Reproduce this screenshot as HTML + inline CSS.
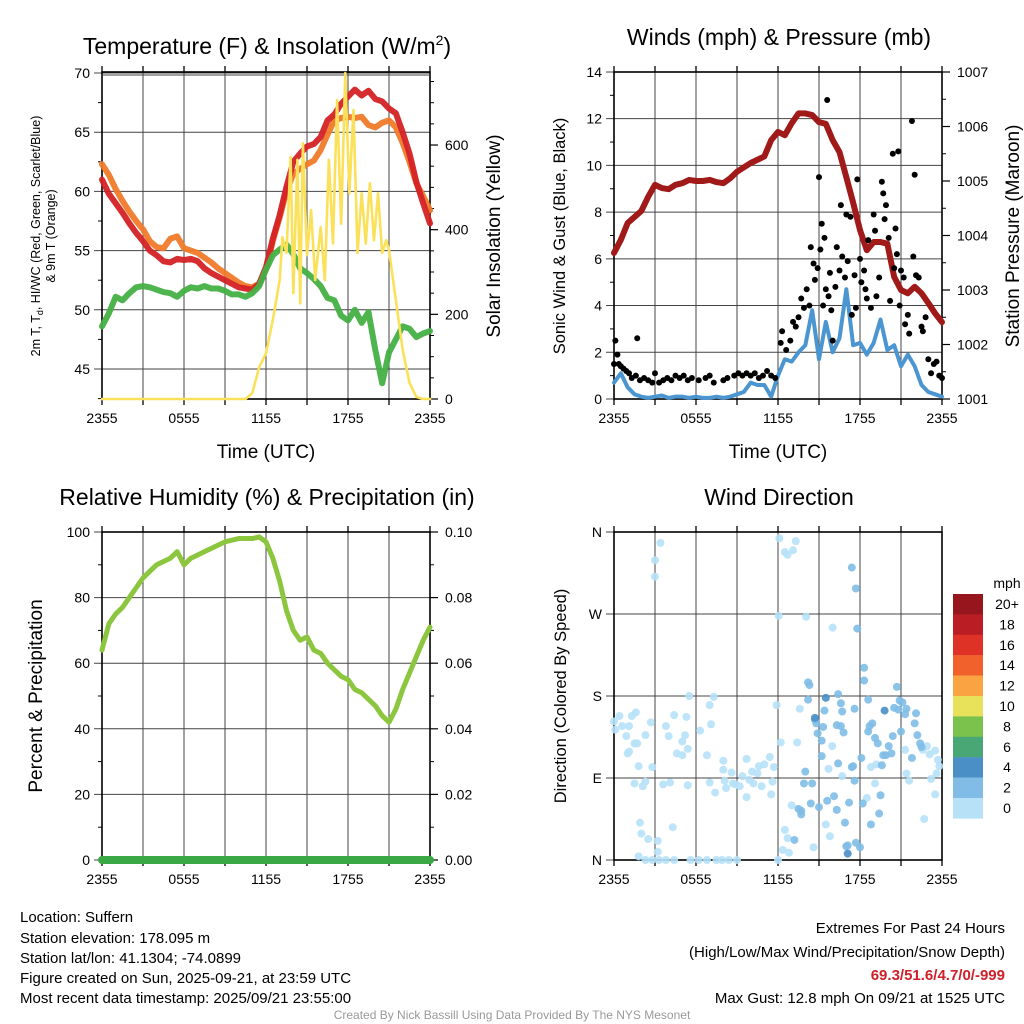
<!DOCTYPE html>
<html><head><meta charset="utf-8"><style>
body{margin:0;background:#fff}
svg{display:block;font-family:"Liberation Sans",sans-serif}
</style></head><body>
<svg id="s" width="1024" height="1024" viewBox="0 0 1024 1024">
<rect width="1024" height="1024" fill="#fff"/>
<text x="267" y="54" font-size="23" text-anchor="middle">Temperature (F) &amp; Insolation (W/m<tspan font-size="14" dy="-9">2</tspan><tspan dy="9">)</tspan></text>
<text x="779" y="45" font-size="23" text-anchor="middle">Winds (mph) &amp; Pressure (mb)</text>
<text x="267" y="505" font-size="23" text-anchor="middle">Relative Humidity (%) &amp; Precipitation (in)</text>
<text x="779" y="505" font-size="23" text-anchor="middle">Wind Direction</text>
<text transform="translate(40,236) rotate(-90)" font-size="12.5" text-anchor="middle">2m T, T<tspan font-size="9" dy="3">d</tspan><tspan dy="-3">, HI/WC (Red, Green, Scarlet/Blue)</tspan></text>
<text transform="translate(55,236) rotate(-90)" font-size="12.5" text-anchor="middle">&amp; 9m T (Orange)</text>
<text transform="translate(500,236) rotate(-90)" font-size="19" text-anchor="middle">Solar Insolation (Yellow)</text>
<text transform="translate(565,236) rotate(-90)" font-size="16.5" text-anchor="middle">Sonic Wind &amp; Gust (Blue, Black)</text>
<text transform="translate(1019,236) rotate(-90)" font-size="19" text-anchor="middle">Station Pressure (Maroon)</text>
<text transform="translate(42,696) rotate(-90)" font-size="19" text-anchor="middle">Percent &amp; Precipitation</text>
<text transform="translate(566,696) rotate(-90)" font-size="16.5" text-anchor="middle">Direction (Colored By Speed)</text>
<text x="266" y="458" font-size="19" text-anchor="middle">Time (UTC)</text>
<text x="778" y="458" font-size="19" text-anchor="middle">Time (UTC)</text>
<g font-size="15">
<text x="20" y="922">Location: Suffern</text>
<text x="20" y="943">Station elevation: 178.095 m</text>
<text x="20" y="963">Station lat/lon: 41.1304; -74.0899</text>
<text x="20" y="983">Figure created on Sun, 2025-09-21, at 23:59 UTC</text>
<text x="20" y="1003">Most recent data timestamp: 2025/09/21 23:55:00</text>
</g>
<g font-size="15" text-anchor="end">
<text x="1005" y="933">Extremes For Past 24 Hours</text>
<text x="1005" y="957">(High/Low/Max Wind/Precipitation/Snow Depth)</text>
<text x="1005" y="980" fill="#d0202a" font-weight="bold">69.3/51.6/4.7/0/-999</text>
<text x="1005" y="1003">Max Gust: 12.8 mph On 09/21 at 1525 UTC</text>
</g>
<text x="512" y="1019" font-size="12" fill="#999" text-anchor="middle">Created By Nick Bassill Using Data Provided By The NYS Mesonet</text>
</svg>
<script>
const timeTicks=[0,6,12,18,24];
const timeLabels=['2355','0555','1155','1755','2355'];
const halfHours=[];for(let i=0;i<=48;i++)halfHours.push(i/2);
const tempRed=[61.0,59.8,59.0,58.2,57.3,56.5,55.8,55.0,54.6,54.1,54.0,54.3,54.2,54.3,54.1,53.5,53.1,52.8,52.5,52.2,51.9,51.8,51.7,52.2,53.6,56.0,58.0,60.4,62.5,63.2,63.8,64.0,64.6,66.0,66.5,67.4,68.0,68.6,68.1,68.5,67.8,67.6,67.0,66.6,65.0,63.2,60.8,59.0,57.3];
const tempOrange=[62.3,61.4,60.2,59.2,58.3,57.5,56.8,55.8,55.3,55.2,56.0,56.2,55.2,55.0,54.8,54.4,54.0,53.5,53.1,52.7,52.3,52.0,51.9,52.2,53.4,55.8,57.8,60.0,61.5,61.9,62.3,62.6,63.5,64.8,66.0,66.2,66.3,66.2,66.3,65.6,65.4,65.8,66.0,65.4,64.1,62.5,60.7,59.6,58.4];
const dewGreen=[48.6,49.7,51.1,50.8,51.4,51.9,52.0,51.9,51.7,51.5,51.4,51.1,51.6,51.9,51.8,52.0,51.8,51.8,51.6,51.3,51.3,51.1,51.4,52.0,53.4,54.6,55.1,55.5,54.7,53.5,53.1,52.6,52.0,51.0,50.8,49.5,49.1,50.0,48.9,49.8,46.6,43.8,46.4,47.5,48.6,48.4,47.7,48.0,48.2];
const solarHours=[0,10.5,11,11.5,12,12.5,13,13.2,13.5,13.8,14,14.3,14.5,14.7,15,15.3,15.6,16,16.3,16.6,16.9,17.2,17.5,17.8,18.1,18.4,18.7,19,19.3,19.6,19.9,20.2,20.5,20.8,21,21.5,22,22.5,23,23.5,24];
const solarValues=[0,0,14,75,108,187,281,382,345,572,250,565,226,604,340,446,281,406,281,565,367,706,414,770,486,683,345,486,367,510,375,486,345,375,351,234,116,38,5,0,0];
const pressure=[1003.68,1003.92,1004.23,1004.34,1004.45,1004.71,1004.93,1004.87,1004.85,1004.93,1004.96,1005.02,1005.0,1005.0,1005.02,1004.98,1004.96,1005.05,1005.17,1005.25,1005.33,1005.39,1005.45,1005.75,1005.9,1005.84,1006.06,1006.24,1006.24,1006.21,1006.08,1006.05,1005.75,1005.53,1005.07,1004.6,1004.1,1003.73,1003.88,1003.88,1003.85,1003.24,1003.0,1002.94,1003.06,1002.94,1002.76,1002.57,1002.41];
const windSpeed=[0.7,1.1,0.5,0.2,0.1,0.05,0.1,0.15,0.05,0.1,0.1,0.05,0.1,0.05,0.05,0.1,0.05,0.1,0.2,0.3,0.7,0.6,0.6,0.1,1.0,1.7,1.6,2.0,2.3,3.8,1.7,3.3,2.0,2.6,4.7,2.3,2.4,1.9,2.4,3.4,2.1,2.3,1.4,1.9,1.4,0.6,0.3,0.2,0.1];
const gustHours=[0,0.1,0.25,0.35,0.5,0.7,0.9,1.1,1.3,1.7,1.6,1.9,2.2,2.5,2.8,3.0,3.3,3.6,3.9,4.2,4.5,4.8,5.1,5.4,5.7,6.2,6.7,7.0,7.3,8.0,8.3,8.8,9.1,9.4,9.7,10.0,10.3,10.6,10.9,11.2,11.5,11.8,12.2,12.3,12.6,12.9,13.1,13.3,13.5,13.7,13.9,14.1,14.3,14.4,14.6,14.7,14.9,15.0,15.1,15.2,15.3,15.4,15.5,15.6,15.7,15.8,15.9,16.0,16.2,16.3,16.5,16.6,16.7,16.9,17.0,17.1,17.3,17.4,17.6,17.7,17.8,18.0,18.1,18.3,18.4,18.5,18.6,18.8,19.0,19.1,19.2,19.4,19.6,19.7,19.8,19.9,20.1,20.2,20.4,20.5,20.6,20.7,20.8,20.9,21.0,21.2,21.3,21.5,21.6,21.8,21.9,22.0,22.1,22.3,22.5,22.6,22.8,23.0,23.2,23.4,23.6,23.8,24.0];
const gustSpeed=[1.5,2.5,1.9,1.5,1.4,1.3,1.2,1.1,0.9,2.6,1.0,0.8,0.9,0.8,0.7,1.1,0.7,0.8,0.9,0.8,1.0,0.9,1.0,0.8,0.9,0.8,0.9,1.0,0.7,0.8,0.9,1.0,1.1,1.0,1.1,1.0,1.1,0.9,1.0,1.2,1.0,0.9,2.4,2.9,2.1,2.5,3.3,3.1,3.5,4.3,3.9,4.7,4.0,6.5,5.8,5.1,5.6,9.5,6.4,7.5,4.0,6.9,4.7,12.8,4.4,5.4,3.8,2.5,4.8,6.5,5.5,8.3,6.1,5.2,7.9,5.9,7.8,3.6,5.3,3.9,9.4,6.0,5.0,5.5,4.7,4.3,6.8,3.9,7.9,7.2,4.4,5.2,9.3,8.8,7.7,8.3,6.9,4.2,10.5,5.6,7.3,6.2,10.6,4.0,5.5,5.2,3.2,3.6,2.8,11.9,6.1,9.6,5.3,5.2,3.1,2.9,3.5,1.7,1.1,1.5,1.6,1.0,0.9];
const rhValues=[64,72,75,77,80,83,86,88,90,91,92,94,90,92,93,94,95,96,97,97.5,98,98,98,98.5,97,92,85,76,70,67,68,64,63,60,58,56,55,52,51,49,47,44,42,46,52,57,62,67,71];
const precipValues=[];for(let i=0;i<=48;i++)precipValues.push(0);
const dirHours=[0,0.1,0.4,0.6,0.9,1.1,1.3,1.6,1.5,1.7,1.0,1.1,1.8,1.5,2.1,2.3,2.3,2.7,2.8,3.0,3.0,3.4,1.9,2.0,2.5,3.2,3.2,1.8,2.3,2.8,3.3,3.8,4.4,3.6,4.1,3.8,4.0,4.4,4.6,5.0,5.0,5.3,5.2,5.4,5.4,5.5,4.3,5.6,6.2,6.8,7.5,7.9,8.4,9.0,6.3,6.8,7.0,7.0,7.1,7.3,7.4,8.0,8.0,8.2,8.1,8.6,8.7,8.9,9.2,9.4,9.7,9.7,9.9,10.1,10.2,10.5,10.6,10.8,11.0,11.4,11.5,11.6,11.7,11.9,12.0,12.05,12.1,12.2,12.35,12.5,12.5,12.7,12.8,12.7,13.0,13.1,13.3,13.6,13.4,14.06,14.6,16.0,15.7,15.97,15.5,15.8,16.7,18.5,18.8,19.1,19.2,21.3,21.4,21.6,22.6,22.9,23.1,23.5,23.6,23.7,23.8,23.2,22.7,23.5,
13.2,13.5,13.7,13.7,14.0,13.9,14.2,14.2,14.3,14.5,14.4,14.7,14.8,14.9,15.0,15.2,15.3,15.2,15.4,15.6,16.1,16.3,16.4,16.4,16.6,16.7,16.3,16.6,16.8,16.9,17.0,17.1,17.2,17.4,17.5,17.6,17.6,17.7,17.8,17.7,17.4,18.0,18.1,18.2,18.3,18.3,18.6,18.6,18.7,18.9,19.1,19.3,18.8,19.4,19.5,19.6,19.7,19.9,20.1,20.3,20.4,20.5,20.7,20.8,20.9,21.0,21.1,21.3,21.4,21.8,22.1,22.2,22.4,22.5,22.0,
14.7,15.5,19.8,17.1];
const dirDegrees=[152,143,158,147,136,147,158,162,128,128,117,119,103,84,81,86,137,151,102,311,329,348,41,29,23,21,9,4,0,0,0,0,0,83,85,147,136,159,117,115,130,157,137,122,82,180,36,0,0,0,0,0,0,0,142,115,85,170,149,179,74,109,99,79,87,96,84,83,81,92,111,69,88,97,84,95,103,81,105,113,72,86,102,170,0,268,353,129,11,33,338,335,8,24,60,340,350,166,129,267,14,255,100,125,39,26,92,68,102,84,105,121,95,87,121,125,116,120,95,110,103,89,45,72,
22,56,54,50,97,84,176,195,192,84,62,154,150,139,58,131,146,114,164,65,70,55,106,182,172,163,148,147,140,41,15,16,63,102,103,166,87,19,254,298,321,14,112,62,211,197,176,141,147,150,134,128,39,51,71,104,115,115,125,117,136,167,190,165,175,141,173,160,166,112,161,137,128,124,150,
156,178,164,7];
const dirSpeed=[];for(let i=0;i<dirHours.length;i++)dirSpeed.push(i<124?1:(i<dirHours.length-4?3:5));
const speedBins=['20+','18','16','14','12','10','8','6','4','2','0'];
const binColors=['#97151c','#bb1d24','#de3226','#f1612b','#f9a343','#e8e25a','#7bc24d','#48a774','#4a8fc6','#80bce6','#b6e1f7'];

const svg=document.getElementById('s');const NS='http://www.w3.org/2000/svg';
function mk(t,a,p){const e=document.createElementNS(NS,t);for(const k in a)e.setAttribute(k,a[k]);(p||svg).appendChild(e);return e;}
function xL(h){return 102+h*328/24;}
function xR(h){return 614+h*328/24;}
const yTemp=v=>369-(v-45)*11.84, ySolar=v=>399-v*0.4233, yWind=v=>399-v*23.36, yPres=v=>399-(v-1001)*54.5, yRH=v=>860-v*3.28, yPrecip=v=>860-v*3280, yDir=v=>860-v*328/360;

function frame(name,x0,x1,y0,y1,xf,leftTicks,leftLab,leftFn,minorL,rightTicks,rightLab,rightFn,minorR){
  const g=mk('g',{});
  
  
  for(let i=0;i<=8;i++){const x=xf(i*3);
    const l=mk('line',{x1:x,x2:x,y1:y0,y2:y1,stroke:'#444','stroke-width':1},g);
    
    
    mk('line',{x1:x,x2:x,y1:y1,y2:y1+6,stroke:'#000','stroke-width':1.3},g);
    mk('line',{x1:x,x2:x,y1:y0,y2:y0-6,stroke:'#000','stroke-width':1.3},g);}
  leftTicks.forEach((v,i)=>{const y=leftFn(v);
    const l=mk('line',{x1:x0-8,x2:x1,y1:y,y2:y,stroke:'#444','stroke-width':1},g);
    
    
    const t=mk('text',{x:x0-12,y:y+5,'font-size':14,'text-anchor':'end'},g);t.textContent=leftLab[i];
    
    });
  minorL.forEach(v=>{const y=leftFn(v);mk('line',{x1:x0-4,x2:x0,y1:y,y2:y,stroke:'#000'},g);});
  rightTicks.forEach((v,i)=>{const y=rightFn(v);
    mk('line',{x1:x1,x2:x1+8,y1:y,y2:y,stroke:'#000','stroke-width':1.2},g);
    const t=mk('text',{x:x1+15,y:y+5,'font-size':14},g);t.textContent=rightLab[i];
    
    });
  minorR.forEach(v=>{const y=rightFn(v);mk('line',{x1:x1,x2:x1+4,y1:y,y2:y,stroke:'#000'},g);});
  timeTicks.forEach((h,i)=>{const t=mk('text',{x:xf(h),y:y1+24,'font-size':14,'text-anchor':'middle'},g);t.textContent=timeLabels[i];
    
    });
  mk('rect',{x:x0,y:y0,width:x1-x0,height:y1-y0,fill:'none',stroke:'#000','stroke-width':1.6},g);
  return g;
}
function line(pts,color,w,name,op){const p=mk('polyline',{points:pts.map(q=>q.join(',')).join(' '),fill:'none',stroke:color,'stroke-width':w,'stroke-linejoin':'round','stroke-linecap':'round',opacity:op||1});
  
  
  return p;}

// Panel 1
frame('temp-panel',102,430,72,399,xL,[70,65,60,55,50,45],['70','65','60','55','50','45'],yTemp,[67.5,62.5,57.5,52.5,47.5,42.5],[0,200,400,600],['0','200','400','600'],ySolar,[50,100,150,250,300,350,450,500,550,650,700,750]);
mk('line',{x1:102,x2:430,y1:75,y2:75,stroke:'#444'});
line(halfHours.map((h,i)=>[xL(h),yTemp(tempOrange[i])]),'#f07a2a',6,'orange-9m-temp-line',0.95);
line(halfHours.map((h,i)=>[xL(h),yTemp(tempRed[i])]),'#d42226',6,'red-2m-temp-line',0.95);
line(halfHours.map((h,i)=>[xL(h),yTemp(dewGreen[i])]),'#44b044',6,'green-dewpoint-line',0.95);
line(solarHours.map((h,i)=>[xL(h),ySolar(solarValues[i])]),'#fbe15a',2.6,'yellow-insolation-line');

// Panel 2
frame('wind-panel',614,942,72,399,xR,[0,2,4,6,8,10,12,14],['0','2','4','6','8','10','12','14'],yWind,[1,3,5,7,9,11,13],[1001,1002,1003,1004,1005,1006,1007],['1001','1002','1003','1004','1005','1006','1007'],yPres,[1001.5,1002.5,1003.5,1004.5,1005.5,1006.5]);
line(halfHours.map((h,i)=>[xR(h),yPres(pressure[i])]),'#a11a1a',6,'maroon-pressure-line');
line(halfHours.map((h,i)=>[xR(h),yWind(windSpeed[i])]),'#4b95d1',4,'blue-wind-line');
gustHours.forEach((h,i)=>{const c=mk('circle',{cx:xR(h),cy:yWind(gustSpeed[i]),r:3,fill:'#000'});
  
  });

// Panel 3
frame('rh-panel',102,430,532,860,xL,[0,20,40,60,80,100],['0','20','40','60','80','100'],yRH,[10,30,50,70,90],[0,0.02,0.04,0.06,0.08,0.10],['0.00','0.02','0.04','0.06','0.08','0.10'],yPrecip,[0.01,0.03,0.05,0.07,0.09]);
line(halfHours.map((h,i)=>[xL(h),yPrecip(precipValues[i])]),'#3aa844',8,'precip-line');
line(halfHours.map((h,i)=>[xL(h),yRH(rhValues[i])]),'#8cc63f',5,'rh-line');

// Panel 4
frame('direction-panel',614,942,532,860,xR,[0,90,180,270,360],['N','E','S','W','N'],yDir,[],[],[],yDir,[]);
const spdColor=s=>binColors[10-Math.min(10,Math.floor(s/2))];
dirHours.forEach((h,i)=>{const c=mk('circle',{cx:xR(h),cy:yDir(dirDegrees[i]),r:4,fill:spdColor(dirSpeed[i]),opacity:0.9});
  
  });

// Colorbar
const cb=mk('g',{});


const ct=mk('text',{x:1007,y:588,'font-size':14,'text-anchor':'middle'},cb);ct.textContent='mph';
speedBins.forEach((lab,i)=>{const y=594+i*20.4;
  const r=mk('rect',{x:953,y:y,width:30,height:20.6,fill:binColors[i]},cb);
  
  
  const t=mk('text',{x:1007,y:y+15,'font-size':14,'text-anchor':'middle'},cb);t.textContent=lab;
  
  });
</script>
</body></html>
